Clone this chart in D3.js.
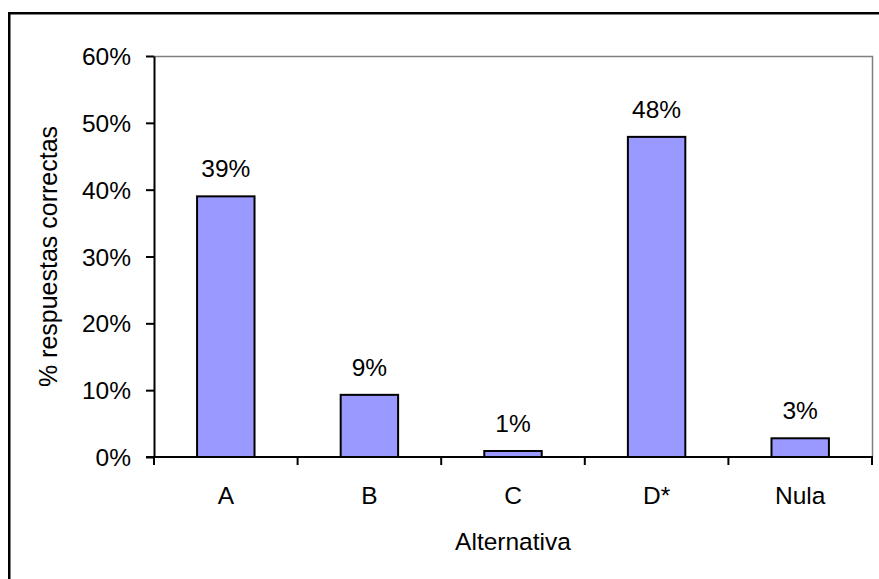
<!DOCTYPE html>
<html>
<head>
<meta charset="utf-8">
<script src="https://cdn.jsdelivr.net/npm/d3@7"></script>
<style>
  html, body { margin: 0; padding: 0; background: #fff; }
  svg { display: block; }
  text { font-family: "Liberation Sans", Arial, sans-serif; fill: #000; }
</style>
</head>
<body>
<svg id="chart" width="879" height="579"></svg>
<script>
const categories = ["A", "B", "C", "D*", "Nula"];
const values = [0.39, 0.093, 0.009, 0.479, 0.028];
const valueLabels = ["39%", "9%", "1%", "48%", "3%"];
const yTicks = [0, 0.1, 0.2, 0.3, 0.4, 0.5, 0.6];
const xTitle = "Alternativa";
const yTitle = "% respuestas correctas";

const svg = d3.select("#chart");
const W = 879, H = 579;
const plot = { left: 154, right: 872, top: 56, bottom: 457 };

// outer chart frame (extends beyond the picture on right/bottom)
svg.append("rect")
  .attr("x", 9.25).attr("y", 13.25)
  .attr("width", 900).attr("height", 600)
  .attr("fill", "#fff").attr("stroke", "#000").attr("stroke-width", 2.5);

const x = d3.scaleBand().domain(categories).range([plot.left, plot.right]).paddingInner(0.6).paddingOuter(0.3);
const xEdge = d3.scaleBand().domain(categories).range([plot.left, plot.right]).padding(0);
const y = d3.scaleLinear().domain([0, 0.6]).range([plot.bottom, plot.top]);

// plot area border (gray)
svg.append("path")
  .attr("d", `M${plot.left},${plot.top + 0.5}H${plot.right + 0.5}V${plot.bottom}`)
  .attr("fill", "none").attr("stroke", "#808080").attr("stroke-width", 1.5);

// bars
svg.append("g").selectAll("rect").data(categories).join("rect")
  .attr("x", d => x(d))
  .attr("y", (d, i) => y(values[i]))
  .attr("width", x.bandwidth())
  .attr("height", (d, i) => y(0) - y(values[i]))
  .attr("fill", "#9999FF").attr("stroke", "#000").attr("stroke-width", 2);

// value labels
svg.append("g").selectAll("text").data(categories).join("text")
  .attr("x", d => x(d) + x.bandwidth() / 2)
  .attr("y", (d, i) => y(values[i]) - 19)
  .attr("text-anchor", "middle")
  .attr("font-size", 24.5)
  .text((d, i) => valueLabels[i]);

// y axis
const yAxis = d3.axisLeft(y).tickValues(yTicks).tickFormat(d3.format(".0%")).tickSize(8).tickSizeOuter(0).tickPadding(15);
const gy = svg.append("g").attr("transform", `translate(${plot.left},0)`).call(yAxis);
gy.select(".domain").attr("stroke", "#000").attr("stroke-width", 2);
gy.selectAll(".tick line").attr("stroke", "#000").attr("stroke-width", 2);
gy.selectAll(".tick text").attr("font-size", 24.5).attr("font-family", "Liberation Sans, Arial, sans-serif").attr("fill", "#000").attr("dy", "0.35em");

// x axis: ticks at band boundaries
const gx = svg.append("g").attr("transform", `translate(0,${plot.bottom})`);
gx.append("line").attr("x1", plot.left - 8).attr("x2", plot.right + 1)
  .attr("stroke", "#000").attr("stroke-width", 2);
const edges = categories.map(c => xEdge(c)).concat([plot.right]);
gx.selectAll("line.tk").data(edges).join("line").attr("class", "tk")
  .attr("x1", d => d).attr("x2", d => d).attr("y1", 0).attr("y2", 8)
  .attr("stroke", "#000").attr("stroke-width", 2);
gx.selectAll("text").data(categories).join("text")
  .attr("x", d => xEdge(d) + xEdge.bandwidth() / 2)
  .attr("y", 47)
  .attr("text-anchor", "middle")
  .attr("font-size", 24.5)
  .text(d => d);

// axis titles
svg.append("text")
  .attr("x", (plot.left + plot.right) / 2).attr("y", 550)
  .attr("text-anchor", "middle").attr("font-size", 24.5)
  .text(xTitle);

svg.append("text")
  .attr("transform", `translate(57,${(plot.top + plot.bottom) / 2}) rotate(-90)`)
  .attr("text-anchor", "middle").attr("font-size", 25)
  .text(yTitle);
</script>
</body>
</html>
